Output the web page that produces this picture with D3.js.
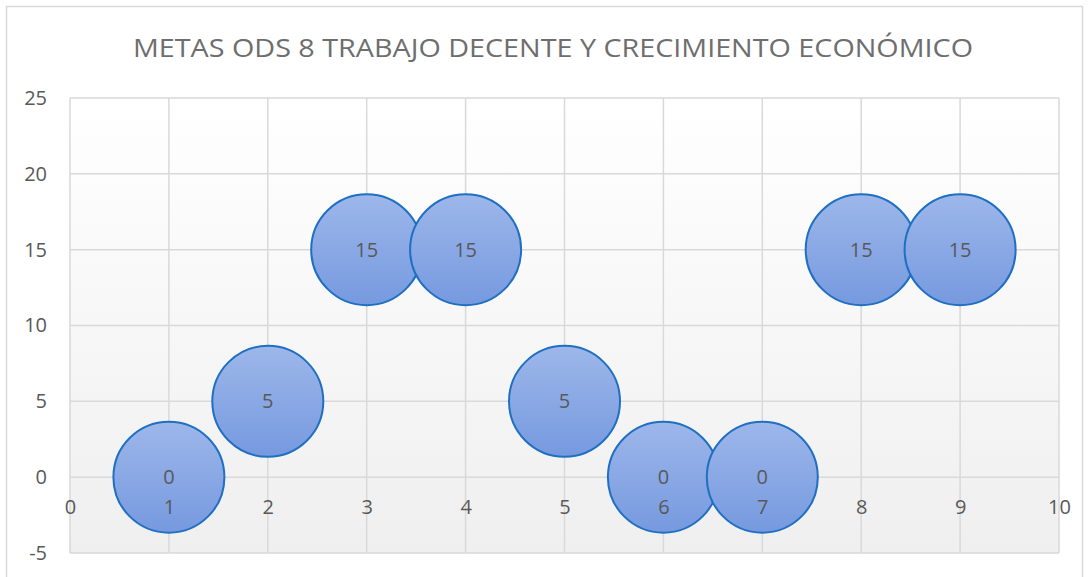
<!DOCTYPE html>
<html>
<head>
<meta charset="utf-8">
<script src="https://cdn.jsdelivr.net/npm/d3@7"></script>
<style>
  body { margin: 0; background: #fff; }
  svg { display: block; font-family: "Open Sans", "Noto Sans", sans-serif; }
</style>
</head>
<body>
<script>
"use strict";
(function(){
    // data
    const metas = [1, 2, 3, 4, 5, 6, 7, 8, 9]
    const valores = [0, 5, 15, 15, 5, 0, 0, 15, 15]
    const tamanos = [1, 1, 1, 1, 1, 1, 1, 1, 1]
    const xTicks = [0, 1, 2, 3, 4, 5, 6, 7, 8, 9, 10]
    const yTicks = [-5, 0, 5, 10, 15, 20, 25]
    const title = "METAS ODS 8 TRABAJO DECENTE Y CRECIMIENTO ECONÓMICO"

    const measurements = {
        width: 1088,
        height: 577,
        left: 70,
        right: 1059,
        top: 98,
        bottom: 553
    }

    // plain hyphen for negatives, like the original
    const fmt = d => String(d)

    let svg = d3.select('body').append('svg')
        .attr('width', measurements.width)
        .attr('height', measurements.height)

    let defs = svg.append('defs')
    let plotGrad = defs.append('linearGradient')
        .attr('id', 'plotGrad').attr('x1', 0).attr('y1', 0).attr('x2', 0).attr('y2', 1)
    plotGrad.append('stop').attr('offset', '0%').attr('stop-color', '#ffffff')
    plotGrad.append('stop').attr('offset', '100%').attr('stop-color', '#efefef')

    let bubbleGrad = defs.append('linearGradient')
        .attr('id', 'bubbleGrad').attr('x1', 0).attr('y1', 0).attr('x2', 0).attr('y2', 1)
    bubbleGrad.append('stop').attr('offset', '0%').attr('stop-color', '#9db7ea')
    bubbleGrad.append('stop').attr('offset', '100%').attr('stop-color', '#7699df')

    // chart frame
    svg.append('rect')
        .attr('x', 6.5).attr('y', 6.5)
        .attr('width', 1076).attr('height', 600)
        .attr('fill', '#fff')
        .attr('stroke', '#d9d9d9')
        .attr('stroke-width', 1.5)

    // title
    svg.append('text')
        .attr('x', 553)
        .attr('y', 57)
        .attr('text-anchor', 'middle')
        .attr('fill', '#6e6e6e')
        .attr('font-size', 25)
        .attr('textLength', 840)
        .attr('lengthAdjust', 'spacingAndGlyphs')
        .text(title)

    let scaleX = d3.scaleLinear()
        .domain([0, 10])
        .range([measurements.left, measurements.right])
    let scaleY = d3.scaleLinear()
        .domain([-5, 25])
        .range([measurements.bottom, measurements.top])
    let scaleR = d3.scaleSqrt()
        .domain([0, d3.max(tamanos)])
        .range([0, 55.5])

    // plot area
    svg.append('rect')
        .attr('x', measurements.left).attr('y', measurements.top)
        .attr('width', measurements.right - measurements.left)
        .attr('height', measurements.bottom - measurements.top)
        .attr('fill', 'url(#plotGrad)')

    // gridlines
    svg.append('g')
        .selectAll('line')
        .data(xTicks)
        .enter()
        .append('line')
        .attr('x1', d => scaleX(d)).attr('x2', d => scaleX(d))
        .attr('y1', measurements.top).attr('y2', measurements.bottom)
        .attr('stroke', '#d9d9d9').attr('stroke-width', 1.5)

    svg.append('g')
        .selectAll('line')
        .data(yTicks)
        .enter()
        .append('line')
        .attr('x1', measurements.left).attr('x2', measurements.right)
        .attr('y1', d => scaleY(d)).attr('y2', d => scaleY(d))
        .attr('stroke', '#d9d9d9').attr('stroke-width', 1.5)

    // y axis labels
    let yAxis = d3.axisLeft(scaleY)
        .tickValues(yTicks)
        .tickFormat(fmt)
        .tickSize(0)
        .tickPadding(23)
    let gy = svg.append('g')
        .attr('transform', 'translate(' + measurements.left + ',0)')
        .call(yAxis)
    gy.select('.domain').remove()
    gy.selectAll('text')
        .attr('fill', '#595959')
        .attr('font-size', 20)
        .attr('font-family', '"Open Sans", sans-serif')

    // bubbles
    svg.append('g')
        .selectAll('circle')
        .data(metas)
        .enter()
        .append('circle')
        .attr('cx', (d, i) => scaleX(d))
        .attr('cy', (d, i) => scaleY(valores[i]))
        .attr('r', (d, i) => scaleR(tamanos[i]))
        .attr('fill', 'url(#bubbleGrad)')
        .attr('stroke', '#1f6fc2')
        .attr('stroke-width', 2)

    // x axis labels drawn at the zero line
    let xAxis = d3.axisBottom(scaleX)
        .tickValues(xTicks)
        .tickFormat(fmt)
        .tickSize(0)
        .tickPadding(23)
    let gx = svg.append('g')
        .attr('transform', 'translate(0,' + scaleY(0) + ')')
        .call(xAxis)
    gx.select('.domain').remove()
    gx.selectAll('text')
        .attr('fill', '#595959')
        .attr('font-size', 20)
        .attr('font-family', '"Open Sans", sans-serif')

    // data labels
    svg.append('g')
        .selectAll('text')
        .data(metas)
        .enter()
        .append('text')
        .attr('x', (d, i) => scaleX(d))
        .attr('y', (d, i) => scaleY(valores[i]))
        .attr('dy', '0.35em')
        .attr('text-anchor', 'middle')
        .attr('fill', '#595959')
        .attr('font-size', 20)
        .text((d, i) => valores[i])
})()
</script>
</body>
</html>
